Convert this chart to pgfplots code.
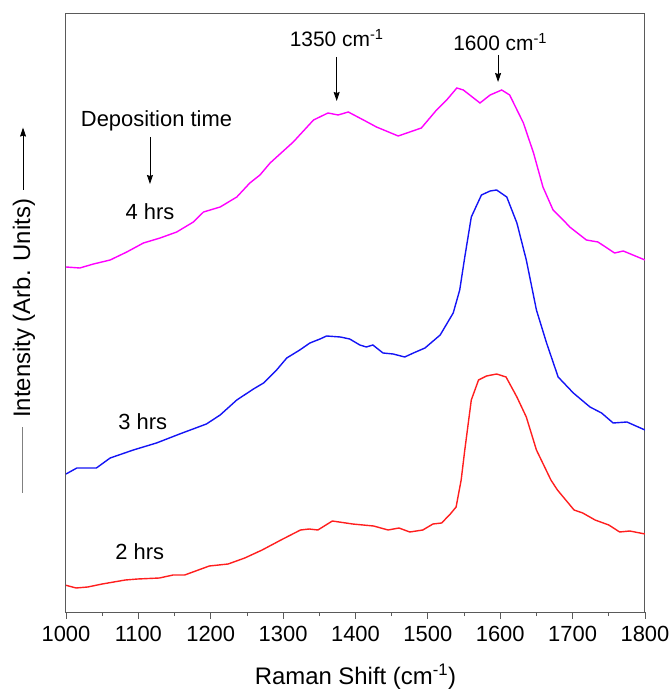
\documentclass[border=0pt]{standalone}
\usepackage{pgfplots}
\pgfplotsset{compat=1.18}
\usetikzlibrary{arrows.meta}
\usepackage{fontspec}
\setmainfont{Liberation Sans}
\definecolor{mymag}{RGB}{255,0,255}
\definecolor{myblue}{RGB}{20,20,245}
\definecolor{myred}{RGB}{255,30,30}
\definecolor{axgray}{RGB}{90,90,90}
\tikzset{annarrow/.style={-{Stealth[length=9bp,width=6bp,inset=1bp]}, line width=0.8bp}}
\begin{document}
\begin{tikzpicture}
\path[use as bounding box] (-66bp,-79bp) rectangle (606bp,612bp);
\begin{axis}[
  at={(0,0)}, anchor=south west,
  width=579bp, height=598bp, scale only axis,
  xmin=1000, xmax=1800, ymin=0, ymax=598,
  xtick={1000,1100,...,1800}, minor x tick num=1,
  ytick=\empty,
  tick align=outside, xtick pos=lower,
  major tick length=6.5bp, minor tick length=4bp,
  axis line style={axgray, line width=1bp},
  every tick/.style={axgray, line width=0.8bp},
  font=\fontsize{22}{26}\selectfont,
  /pgf/number format/assume math mode=true,
  /pgf/number format/1000 sep={},
  xticklabel style={yshift=-4bp},
  xlabel={Raman Shift (cm\textsuperscript{-1})},
  xlabel style={font=\fontsize{24}{28}\selectfont, at={(axis description cs:0.5,-0.122)}, anchor=base},
  ylabel={\textcolor{gray}{\rule[0.3em]{66bp}{0.8bp}}\hspace{9bp}Intensity (Arb. Units)\hspace{9bp}\tikz[baseline=-0.3em]\draw[-{Stealth[length=9bp,width=6bp,inset=1bp]}, line width=0.8bp](0,0)--(62bp,0);},
  ylabel style={font=\fontsize{24}{28}\selectfont, at={(axis description cs:-0.0725,0.505)}, anchor=center},
]
\addplot[myred, line width=1.4bp] coordinates {
(1000,26.7) (1014,24) (1030,25) (1050,28) (1082,32) (1099,33) (1129,34) (1148,37) (1164,37) (1198,46) (1224,48) (1247,54) (1271,62) (1297,72) (1324,82) (1336,83) (1348,82) (1368,91) (1396,88) (1425,86) (1445,82) (1460,84) (1475,80) (1493,82) (1507,88) (1519,89) (1531,98) (1539,105) (1546,132) (1551,162) (1560,212) (1570,232) (1581,236) (1595,238) (1608,235) (1623,215) (1636,195) (1650,162) (1670,132) (1679,122) (1702,102) (1714,99) (1731,92) (1750,87) (1765,80) (1779,81) (1800,78)
};
\addplot[myblue, line width=1.4bp] coordinates {
(1000,138) (1015,144) (1042,144) (1061,154) (1093,162) (1125,169) (1157,178) (1194,188) (1213,197) (1236,212) (1259,223) (1273,229) (1291,242) (1305,254) (1323,262) (1337,269) (1351,273) (1360,276) (1379,275) (1392,273) (1406,267) (1415,265) (1424,267) (1438,259) (1452,258) (1468,255) (1480,259) (1496,264) (1517,277) (1535,299) (1544,322) (1551,355) (1560,395) (1574,417) (1586,421) (1595,422) (1609,415) (1623,389) (1636,352) (1650,302) (1664,269) (1680,235) (1701,219) (1724,205) (1740,199) (1756,189) (1775,190) (1800,182)
};
\addplot[mymag, line width=1.4bp] coordinates {
(1000,345) (1019,344) (1038,348) (1061,352) (1084,360) (1107,369) (1130,374) (1153,380) (1176,390) (1190,400) (1213,405) (1236,415) (1254,429) (1268,437) (1282,449) (1314,470) (1342,492) (1362,499) (1376,497) (1390,500) (1411,492) (1429,485) (1459,476) (1475,480) (1491,484) (1512,502) (1526,512) (1540,524) (1549,522) (1572,509) (1586,517) (1602,522) (1613,517) (1632,489) (1646,459) (1659,425) (1673,402) (1687,392) (1696,385) (1719,372) (1735,370) (1758,359) (1770,361) (1800,352)
};
\node at (axis cs:1125,491) {Deposition time};
\draw[annarrow] (axis cs:1116,475) -- (axis cs:1116,428);
\node at (axis cs:1116,400) {4 hrs};
\node at (axis cs:1106,190) {3 hrs};
\node at (axis cs:1102,60) {2 hrs};
\node[font=\fontsize{21}{25}\selectfont] at (axis cs:1374,574) {1350 cm\textsuperscript{-1}};
\draw[annarrow] (axis cs:1374,555) -- (axis cs:1374,511);
\node[font=\fontsize{21}{25}\selectfont] at (axis cs:1600,570) {1600 cm\textsuperscript{-1}};
\draw[annarrow] (axis cs:1597,557) -- (axis cs:1597,530);
\end{axis}
\end{tikzpicture}
\end{document}
